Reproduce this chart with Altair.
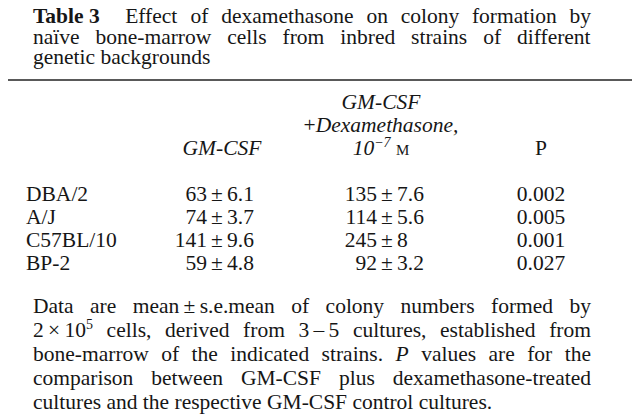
import altair as alt
import pandas as pd

# ---------------- data ----------------
strains = ["DBA/2", "A/J", "C57BL/10", "BP-2"]
gm_mean = ["63", "74", "141", "59"]
gm_se = ["6.1", "3.7", "9.6", "4.8"]
dex_mean = ["135", "114", "245", "92"]
dex_se = ["7.6", "5.6", "8", "3.2"]
p_values = ["0.002", "0.005", "0.001", "0.027"]

title_line1 = ["Table 3", "Effect", "of", "dexamethasone", "on", "colony", "formation", "by"]
title_line2 = ["naïve", "bone-marrow", "cells", "from", "inbred", "strains", "of", "different"]
title_line3 = "genetic backgrounds"

head_col1 = "GM-CSF"
head_col2 = ["GM-CSF", "+Dexamethasone,", "10", "−7", "M"]
head_col3 = "P"

foot_line1 = ["Data", "are", "mean\u2009±\u2009s.e.mean", "of", "colony", "numbers", "formed", "by"]
foot_line2 = ["2\u2009×\u200910", "5", "cells,", "derived", "from", "3\u2009–\u20095", "cultures,", "established", "from"]
foot_line3 = ["bone-marrow", "of", "the", "indicated", "strains.", "P", "values", "are", "for", "the"]
foot_line4 = ["comparison", "between", "GM-CSF", "plus", "dexamethasone-treated"]
foot_line5 = "cultures and the respective GM-CSF control cultures."

# ---------------- text metrics (Times / Liberation Serif) ----------------
FONT = "Liberation Serif"
FS = 21.5
SUP = 14
INK = "#161616"

TR = {}
TR.update(dict(zip("abcdefghijklmnopqrstuvwxyz",
                   [444, 500, 444, 500, 444, 333, 500, 500, 278, 278, 500, 278, 778,
                    500, 500, 500, 500, 333, 389, 278, 500, 500, 722, 500, 500, 444])))
TR.update(dict(zip("ABCDEFGHIJKLMNOPQRSTUVWXYZ",
                   [722, 667, 667, 722, 611, 556, 722, 722, 333, 389, 722, 611, 889,
                    722, 722, 556, 722, 667, 556, 611, 722, 722, 944, 722, 722, 611])))
TR.update({d: 500 for d in "0123456789"})
TR.update({" ": 250, "\u2009": 200, ".": 250, ",": 250, "-": 333, "/": 278, "±": 549,
           "×": 564, "–": 500, "ï": 278, "+": 564, "−": 564})
TI = dict(TR)
TI.update(dict(zip("abcdefghijklmnopqrstuvwxyz",
                   [500, 500, 444, 500, 444, 278, 500, 500, 278, 278, 444, 278, 722,
                    500, 500, 500, 500, 389, 389, 278, 500, 444, 667, 444, 444, 389])))
TI.update({"C": 667, "D": 722, "F": 611, "G": 722, "M": 833, "P": 611, "S": 500,
           "+": 675, "−": 675})
TB = dict(TR)
TB.update({"T": 667, "a": 500, "b": 556, "l": 278, "e": 444})
TABLES = {"n": TR, "i": TI, "b": TB}


def seg_width(seg):
    text, style, size, _dy = seg
    return sum(TABLES[style].get(ch, 500) for ch in text) * size / 1000.0


def word_width(word):
    return sum(seg_width(s) for s in word)


def place(word, x0, y, rows):
    x = x0
    for seg in word:
        text, style, size, dy = seg
        rows.append({"text": text, "x": x, "y": y + dy, "key": f"{style}{size}"})
        x += seg_width(seg)
    return x


def justify(words, left, right, y, rows):
    total = sum(word_width(w) for w in words)
    gap = (right - left - total) / (len(words) - 1)
    x = left
    for w in words:
        x = place(w, x, y, rows) + gap


def center(word, cx, y, rows):
    place(word, cx - word_width(word) / 2.0, y, rows)


def n(t, size=FS, dy=0):
    return (t, "n", size, dy)


def it(t, size=FS, dy=0):
    return (t, "i", size, dy)


def bd(t, size=FS, dy=0):
    return (t, "b", size, dy)


# ---------------- layout of the free text (page pixels) ----------------
L_TXT, R_TXT = 33, 591
TY = [23, 44, 64]
HY = [109, 132, 155]
FY = [313, 337, 361, 385, 409]
RULE_Y = 80

rows = []
w1 = [[bd(title_line1[0]), n("  ")]] + [[n(w)] for w in title_line1[1:]]
justify(w1, L_TXT, R_TXT, TY[0], rows)
justify([[n(w)] for w in title_line2], L_TXT, R_TXT, TY[1], rows)
place([n(title_line3)], L_TXT, TY[2], rows)

center([it(head_col2[0])], 381, HY[0], rows)
center([n(head_col2[1][0]), it(head_col2[1][1:])], 381, HY[1], rows)
center([it(head_col2[2]), it(head_col2[3], SUP, -8), n(" "), n(head_col2[4], 15)], 381, HY[2], rows)
center([it(head_col1)], 222, HY[2], rows)
center([n(head_col3)], 541, HY[2], rows)

justify([[n(w)] for w in foot_line1], L_TXT, R_TXT, FY[0], rows)
f2 = [[n(foot_line2[0]), n(foot_line2[1], SUP, -8)]] + [[n(w)] for w in foot_line2[2:]]
justify(f2, L_TXT, R_TXT, FY[1], rows)
f3 = [[it(w)] if w == "P" else [n(w)] for w in foot_line3]
justify(f3, L_TXT, R_TXT, FY[2], rows)
justify([[n(w)] for w in foot_line4], L_TXT, R_TXT, FY[3], rows)
place([n(foot_line5)], L_TXT, FY[4], rows)

free = pd.DataFrame(rows)

W, H = 624, 406
XS = alt.Scale(domain=[8, 8 + W], range=[0, W], zero=False, nice=False)
YS = alt.Scale(domain=[8, 8 + H], range=[0, H], zero=False, nice=False)

layers = []
for key, grp in free.groupby("key"):
    style, size = key[0], float(key[1:])
    props = dict(align="left", baseline="alphabetic", font=FONT, fontSize=size, color=INK)
    if style == "i":
        props["fontStyle"] = "italic"
    if style == "b":
        props["fontWeight"] = "bold"
    layers.append(
        alt.Chart(grp.reset_index(drop=True)).mark_text(**props).encode(
            x=alt.X("x:Q", scale=XS, axis=None),
            y=alt.Y("y:Q", scale=YS, axis=None),
            text="text:N",
        )
    )

# ---------------- table body ----------------
table = pd.DataFrame({
    "row": list(range(len(strains))),
    "strain": strains,
    "gm_mean": gm_mean,
    "gm_se": gm_se,
    "dex_mean": dex_mean,
    "dex_se": dex_se,
    "p": p_values,
    "pm": ["±"] * len(strains),
})
row_y = alt.Y("row:Q", scale=alt.Scale(domain=[0, 3], range=[201 - 8, 270 - 8], zero=False, nice=False),
              axis=None)
base = alt.Chart(table).encode(y=row_y)


def col(field, x_ref, align):
    return base.mark_text(align=align, baseline="alphabetic", font=FONT, fontSize=FS, color=INK).encode(
        x=alt.value(x_ref - 8), text=f"{field}:N")


layers += [
    col("strain", 26, "left"),
    col("gm_mean", 207, "right"),
    col("pm", 217, "center"),
    col("gm_se", 227, "left"),
    col("dex_mean", 377, "right"),
    col("pm", 387, "center"),
    col("dex_se", 397, "left"),
    col("p", 541, "center"),
]

rule = alt.Chart(pd.DataFrame({"a": [0]})).mark_rule(color="#222222", strokeWidth=1.6).encode(
    x=alt.value(-8), x2=alt.value(W), y=alt.value(RULE_Y - 8))
layers.append(rule)

chart = alt.layer(*layers).resolve_scale(x="independent", y="independent").properties(
    width=W, height=H, padding=0, autosize="none", background="white"
).configure_view(stroke=None)

chart.save("out.html", embed_options={"renderer": "svg", "actions": False})
